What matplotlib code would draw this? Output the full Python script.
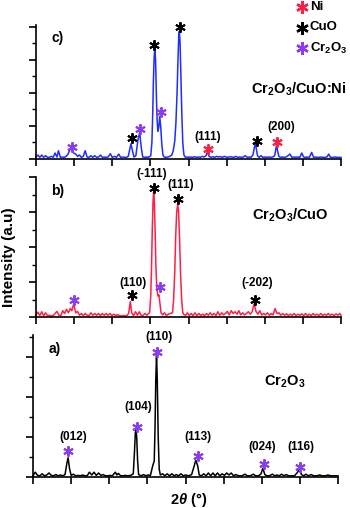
import numpy as np
import matplotlib
matplotlib.use("Agg")
import matplotlib.pyplot as plt
from matplotlib.ticker import MultipleLocator

plt.rcParams['font.family'] = ['Liberation Sans', 'DejaVu Sans']
plt.rcParams['font.weight'] = 'bold'
plt.rcParams['mathtext.fontset'] = 'custom'
plt.rcParams['mathtext.rm'] = 'Liberation Sans:bold'
plt.rcParams['mathtext.it'] = 'Liberation Sans:italic:bold'
plt.rcParams['mathtext.bf'] = 'Liberation Sans:bold'

RED = '#ff1f45'
BLUE = '#1f2cff'
PURPLE = '#8a3cf0'
BLACK = '#000000'

# (2theta, intensity), one list per pattern
a_pattern = [
    (20.0, 0.03), (20.3, 0.12), (20.6, 0.04), (20.9, 0.03), (21.2, 0.08), (21.5, 0.03),
    (21.8, 0.05), (22.1, 0.10), (22.4, 0.04), (22.7, 0.03), (23.0, 0.06), (23.3, 0.03),
    (23.6, 0.05), (23.9, 0.03), (24.2, 0.06), (24.45, 0.35), (24.6, 0.48), (24.8, 0.2),
    (25.0, 0.04), (25.3, 0.07), (25.6, 0.03), (25.9, 0.04), (26.2, 0.03), (26.5, 0.05),
    (26.8, 0.03), (27.1, 0.03), (27.4, 0.12), (27.7, 0.05), (28.0, 0.12), (28.3, 0.04),
    (28.6, 0.10), (28.9, 0.04), (29.2, 0.06), (29.5, 0.03), (29.8, 0.03), (30.1, 0.04),
    (30.4, 0.03), (30.8, 0.12), (31.0, 0.05), (31.2, 0.09), (31.5, 0.03), (31.8, 0.03),
    (32.1, 0.04), (32.4, 0.03), (32.8, 0.04), (33.15, 0.08), (33.3, 0.6), (33.42, 1.1),
    (33.5, 1.2), (33.6, 1.0), (33.72, 0.4), (33.85, 0.06), (34.2, 0.03), (34.5, 0.06),
    (34.8, 0.03), (35.1, 0.05), (35.4, 0.04), (35.7, 0.28), (35.9, 0.4), (36.0, 1.2),
    (36.1, 2.4), (36.2, 3.07), (36.3, 2.4), (36.42, 1.0), (36.55, 0.2), (36.7, 0.05),
    (37.0, 0.08), (37.3, 0.03), (37.6, 0.08), (37.9, 0.03), (38.2, 0.08), (38.5, 0.03),
    (38.8, 0.06), (39.1, 0.03), (39.4, 0.08), (39.7, 0.03), (40.0, 0.05), (40.4, 0.03),
    (40.8, 0.06), (41.1, 0.25), (41.35, 0.42), (41.6, 0.28), (41.8, 0.05), (42.1, 0.03),
    (42.4, 0.08), (42.7, 0.03), (43.0, 0.10), (43.3, 0.03), (43.6, 0.10), (43.9, 0.03),
    (44.2, 0.10), (44.5, 0.03), (44.8, 0.08), (45.1, 0.04), (45.4, 0.10), (45.7, 0.05),
    (46.0, 0.10), (46.3, 0.03), (46.6, 0.06), (47.0, 0.03), (47.4, 0.03), (47.8, 0.07),
    (48.1, 0.03), (48.5, 0.03), (48.9, 0.07), (49.2, 0.03), (49.6, 0.03), (49.9, 0.08),
    (50.15, 0.22), (50.4, 0.06), (50.7, 0.03), (51.0, 0.03), (51.4, 0.07), (51.7, 0.03),
    (52.0, 0.05), (52.3, 0.03), (52.6, 0.07), (52.9, 0.03), (53.2, 0.06), (53.5, 0.03),
    (53.9, 0.03), (54.3, 0.03), (54.7, 0.12), (54.95, 0.21), (55.2, 0.06), (55.5, 0.03),
    (55.8, 0.07), (56.1, 0.03), (56.5, 0.06), (56.8, 0.03), (57.2, 0.03), (57.6, 0.05),
    (57.9, 0.03), (58.3, 0.03), (58.7, 0.05), (59.0, 0.03), (59.5, 0.03), (60.0, 0.03),
]

b_pattern = [
    (20.0, 0.05), (20.25, 0.14), (20.5, 0.04), (20.75, 0.15), (21.0, 0.03), (21.25, 0.12),
    (21.5, 0.04), (21.75, 0.05), (22.0, 0.03), (22.25, 0.04), (22.5, 0.10), (22.75, 0.16),
    (23.0, 0.05), (23.25, 0.04), (23.5, 0.18), (23.75, 0.10), (24.0, 0.22), (24.25, 0.12),
    (24.5, 0.24), (24.7, 0.18), (24.95, 0.38), (25.2, 0.12), (25.45, 0.16), (25.7, 0.05),
    (25.95, 0.10), (26.2, 0.04), (26.45, 0.10), (26.7, 0.05), (26.95, 0.04), (27.2, 0.12),
    (27.45, 0.05), (27.7, 0.10), (27.95, 0.05), (28.2, 0.10), (28.45, 0.04), (28.7, 0.10),
    (28.95, 0.05), (29.2, 0.10), (29.45, 0.05), (29.7, 0.10), (29.95, 0.04), (30.2, 0.08),
    (30.45, 0.04), (30.7, 0.07), (30.95, 0.04), (31.2, 0.03), (31.45, 0.04), (31.7, 0.03),
    (31.95, 0.05), (32.15, 0.10), (32.37, 0.44), (32.55, 0.12), (32.8, 0.04), (33.05, 0.15),
    (33.3, 0.05), (33.55, 0.15), (33.8, 0.04), (34.05, 0.05), (34.3, 0.10), (34.55, 0.05),
    (34.75, 0.10), (34.9, 0.12), (35.05, 0.6), (35.15, 1.4), (35.25, 2.5), (35.35, 3.3),
    (35.43, 3.58), (35.52, 3.3), (35.62, 2.5), (35.72, 1.5), (35.85, 0.8), (36.0, 0.6),
    (36.12, 0.63), (36.25, 0.4), (36.4, 0.12), (36.6, 0.06), (36.85, 0.12), (37.1, 0.04),
    (37.35, 0.08), (37.6, 0.10), (37.9, 0.12), (38.05, 0.5), (38.2, 1.3), (38.32, 2.3),
    (38.45, 3.0), (38.58, 3.22), (38.7, 3.0), (38.82, 2.3), (38.95, 1.3), (39.1, 0.5),
    (39.25, 0.12), (39.45, 0.06), (39.65, 0.05), (39.85, 0.12), (40.1, 0.04), (40.35, 0.10),
    (40.6, 0.04), (40.85, 0.12), (41.1, 0.04), (41.35, 0.10), (41.6, 0.04), (41.85, 0.08),
    (42.1, 0.04), (42.35, 0.10), (42.6, 0.05), (42.85, 0.12), (43.1, 0.05), (43.35, 0.10),
    (43.6, 0.04), (43.85, 0.15), (44.1, 0.05), (44.35, 0.12), (44.6, 0.06), (44.85, 0.10),
    (45.1, 0.16), (45.35, 0.06), (45.6, 0.18), (45.85, 0.10), (46.1, 0.15), (46.35, 0.08),
    (46.6, 0.18), (46.85, 0.06), (47.1, 0.12), (47.35, 0.06), (47.6, 0.10), (47.85, 0.15),
    (48.1, 0.08), (48.35, 0.15), (48.6, 0.38), (48.85, 0.16), (49.1, 0.08), (49.35, 0.18),
    (49.6, 0.06), (49.85, 0.10), (50.1, 0.06), (50.35, 0.12), (50.6, 0.05), (50.85, 0.10),
    (51.1, 0.06), (51.35, 0.24), (51.6, 0.10), (51.85, 0.12), (52.1, 0.05), (52.35, 0.10),
    (52.6, 0.05), (52.85, 0.09), (53.1, 0.04), (53.35, 0.08), (53.6, 0.05), (53.85, 0.10),
    (54.1, 0.04), (54.35, 0.08), (54.6, 0.05), (54.85, 0.09), (55.1, 0.04), (55.35, 0.10),
    (55.6, 0.04), (55.85, 0.08), (56.1, 0.04), (56.35, 0.10), (56.6, 0.05), (56.85, 0.08),
    (57.1, 0.04), (57.35, 0.10), (57.6, 0.04), (57.85, 0.08), (58.1, 0.05), (58.35, 0.10),
    (58.6, 0.05), (58.85, 0.08), (59.1, 0.04), (59.35, 0.09), (59.6, 0.05), (59.85, 0.10),
    (60.0, 0.05),
]

c_pattern = [
    (20.0, 0.06), (20.25, 0.12), (20.5, 0.05), (20.75, 0.12), (21.0, 0.05), (21.25, 0.10),
    (21.5, 0.05), (21.75, 0.05), (22.0, 0.08), (22.25, 0.05), (22.5, 0.18), (22.75, 0.06),
    (22.95, 0.25), (23.2, 0.05), (23.45, 0.06), (23.7, 0.05), (23.95, 0.08), (24.2, 0.15),
    (24.45, 0.28), (24.7, 0.32), (24.95, 0.18), (25.2, 0.15), (25.45, 0.08), (25.7, 0.12),
    (25.95, 0.05), (26.2, 0.08), (26.45, 0.25), (26.7, 0.06), (26.95, 0.05), (27.2, 0.10),
    (27.45, 0.05), (27.7, 0.10), (27.95, 0.05), (28.2, 0.06), (28.45, 0.12), (28.7, 0.05),
    (28.95, 0.06), (29.2, 0.05), (29.45, 0.06), (29.75, 0.16), (30.0, 0.05), (30.3, 0.08),
    (30.55, 0.05), (30.85, 0.15), (31.1, 0.05), (31.35, 0.06), (31.6, 0.05), (31.85, 0.05),
    (32.1, 0.08), (32.3, 0.30), (32.45, 0.46), (32.65, 0.25), (32.85, 0.06), (33.1, 0.10),
    (33.35, 0.55), (33.6, 0.81), (33.8, 0.35), (34.0, 0.06), (34.25, 0.05), (34.5, 0.06),
    (34.75, 0.05), (35.05, 0.10), (35.2, 0.5), (35.3, 1.3), (35.4, 2.4), (35.5, 3.1),
    (35.58, 3.33), (35.68, 3.0), (35.78, 2.0), (35.88, 1.2), (35.98, 0.84), (36.1, 0.95),
    (36.22, 1.29), (36.35, 1.0), (36.5, 0.45), (36.65, 0.12), (36.8, 0.06), (37.05, 0.05),
    (37.3, 0.06), (37.55, 0.08), (37.8, 0.12), (38.0, 0.25), (38.2, 0.55), (38.35, 1.1),
    (38.5, 2.0), (38.62, 3.0), (38.72, 3.7), (38.8, 3.87), (38.9, 3.5), (39.0, 2.6),
    (39.12, 1.4), (39.25, 0.5), (39.4, 0.12), (39.6, 0.05), (39.8, 0.06), (40.05, 0.05),
    (40.3, 0.06), (40.55, 0.05), (40.8, 0.07), (41.05, 0.05), (41.3, 0.06), (41.55, 0.05),
    (41.8, 0.08), (42.05, 0.06), (42.3, 0.10), (42.5, 0.23), (42.7, 0.08), (42.95, 0.05),
    (43.2, 0.07), (43.45, 0.05), (43.7, 0.08), (43.95, 0.06), (44.2, 0.07), (44.45, 0.05),
    (44.7, 0.08), (44.95, 0.06), (45.2, 0.05), (45.45, 0.07), (45.7, 0.06), (45.95, 0.05),
    (46.2, 0.08), (46.45, 0.05), (46.7, 0.06), (46.95, 0.05), (47.2, 0.06), (47.45, 0.10),
    (47.7, 0.05), (47.95, 0.06), (48.2, 0.05), (48.45, 0.12), (48.6, 0.3), (48.75, 0.48),
    (48.9, 0.3), (49.05, 0.10), (49.25, 0.05), (49.5, 0.10), (49.75, 0.05), (50.0, 0.06),
    (50.25, 0.05), (50.5, 0.06), (50.75, 0.05), (51.05, 0.06), (51.3, 0.10), (51.45, 0.3),
    (51.55, 0.43), (51.68, 0.25), (51.85, 0.08), (52.05, 0.05), (52.3, 0.06), (52.55, 0.05),
    (52.8, 0.06), (53.05, 0.10), (53.3, 0.15), (53.55, 0.05), (53.8, 0.06), (54.05, 0.05),
    (54.3, 0.06), (54.6, 0.05), (54.85, 0.18), (55.1, 0.06), (55.35, 0.05), (55.6, 0.06),
    (55.85, 0.05), (56.15, 0.20), (56.4, 0.05), (56.65, 0.06), (56.9, 0.05), (57.15, 0.05),
    (57.4, 0.06), (57.65, 0.05), (57.9, 0.05), (58.15, 0.06), (58.4, 0.15), (58.6, 0.05),
    (58.9, 0.05), (59.2, 0.06), (59.5, 0.05), (59.75, 0.05), (60.0, 0.05),
]

# star markers above the peaks: (2theta, height, colour)
a_stars = [(24.63, 0.65, PURPLE), (33.6, 1.26, PURPLE), (36.3, 3.13, PURPLE),
           (41.6, 0.53, PURPLE), (50.3, 0.32, PURPLE), (55.0, 0.26, PURPLE)]
b_stars = [(25.0, 0.49, PURPLE), (32.59, 0.63, BLACK), (35.53, 3.68, BLACK),
           (36.22, 0.85, PURPLE), (38.59, 3.36, BLACK), (48.72, 0.49, BLACK)]
c_stars = [(24.68, 0.35, PURPLE), (32.55, 0.63, BLACK), (33.64, 0.91, PURPLE),
           (35.48, 3.45, BLACK), (36.35, 1.41, PURPLE), (38.89, 3.99, BLACK),
           (42.52, 0.31, RED), (48.94, 0.55, BLACK), (51.57, 0.52, RED)]

# Miller indices: (text, 2theta, height)
a_hkl = [('(012)', 25.29, 1.01), ('(104)', 33.81, 1.76), ('(110)', 36.56, 3.49),
         ('(113)', 41.68, 0.99), ('(024)', 50.12, 0.76), ('(116)', 55.15, 0.74)]
b_hkl = [('(110)', 32.72, 0.96), ('(-111)', 35.22, 4.1), ('(111)', 38.95, 3.77),
         ('(-202)', 49.04, 0.96)]
c_hkl = [('(111)', 42.56, 0.68), ('(200)', 52.13, 0.96)]

legend_names = ['Ni', 'CuO', 'Cr$_2$O$_3$']
legend_colors = [RED, BLACK, PURPLE]


def style_axis(ax, ytop):
    ax.set_xlim(20, 60)
    ax.set_ylim(0, ytop)
    for side in ('top', 'right'):
        ax.spines[side].set_visible(False)
    for side in ('left', 'bottom'):
        ax.spines[side].set_linewidth(1.2)
    ax.xaxis.set_major_locator(MultipleLocator(5))
    ax.yaxis.set_major_locator(MultipleLocator(1))
    ax.yaxis.set_minor_locator(MultipleLocator(0.5))
    ax.tick_params(axis='x', which='major', direction='out', length=5, width=1.2,
                   labelbottom=False)
    ax.tick_params(axis='y', which='major', direction='out', length=5, width=1.2,
                   labelleft=False)
    ax.tick_params(axis='y', which='minor', direction='out', length=3, width=1.0)


def draw_panel(ax, pattern, color, stars, hkl, tag, name, name_pos, ytop):
    tt, inten = np.array(pattern).T
    ax.plot(tt, inten, color=color, lw=1.1, clip_on=False)
    style_axis(ax, ytop)
    for x, y, col in stars:
        ax.plot([x], [y], marker=(6, 2, 0), ms=7.5, mew=1.4, color=col,
                linestyle='none', clip_on=False)
    for txt, x, y in hkl:
        ax.text(x, y, txt, ha='center', va='center', fontsize=8.5,
                fontweight='bold', clip_on=False)
    ax.text(0.07, 0.90, tag, transform=ax.transAxes, ha='center', va='center',
            fontsize=10, fontweight='bold')
    ax.text(name_pos[0], name_pos[1], name, ha='center', va='center',
            fontsize=10.5, fontweight='bold')


W, H = 350, 508
fig = plt.figure(figsize=(W / 100, H / 100), dpi=100)

ax_c = fig.add_axes([36 / W, 1 - 159 / H, 305 / W, 134 / H])
ax_b = fig.add_axes([36 / W, 1 - 317 / H, 305 / W, 140 / H])
ax_a = fig.add_axes([33 / W, 1 - 477 / H, 305 / W, 142 / H])

draw_panel(ax_c, c_pattern, BLUE, c_stars, c_hkl, 'c)', 'Cr$_2$O$_3$/CuO:Ni',
           (54.4, 2.1), 4.06)
draw_panel(ax_b, b_pattern, RED, b_stars, b_hkl, 'b)', 'Cr$_2$O$_3$/CuO',
           (53.4, 2.9), 4.0)
draw_panel(ax_a, a_pattern, BLACK, a_stars, a_hkl, 'a)', 'Cr$_2$O$_3$',
           (53.05, 2.38), 3.55)

# legend in the top right corner
for i, (name, col) in enumerate(zip(legend_names, legend_colors)):
    y = 1 - (7 + i * 20.5) / H
    fig.add_artist(plt.Line2D([302 / W], [y], marker=(6, 2, 0), ms=9, mew=1.7,
                              color=col, linestyle='none', transform=fig.transFigure))
    fig.text(310 / W, y, name, ha='left', va='center', fontsize=9.5, fontweight='bold')

fig.text(9 / W, 1 - 257 / H, 'Intensity (a.u)', rotation=90, ha='center', va='center',
         fontsize=11, fontweight='bold')
fig.text(189 / W, 1 - 500 / H, r'2$\mathit{\theta}$ (°)', ha='center', va='center',
         fontsize=10.5, fontweight='bold')

fig.savefig('out.png', dpi=100)
